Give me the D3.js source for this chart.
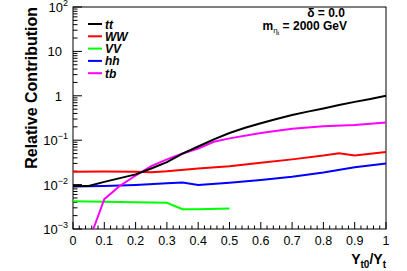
<!DOCTYPE html>
<html>
<head>
<meta charset="UTF-8">
<script src="https://d3js.org/d3.v7.min.js"></script>
<style>
  body { margin: 0; background: #fff; }
  text { font-family: "Liberation Sans", Arial, Helvetica, sans-serif; }
</style>
</head>
<body>
<svg id="chart" width="407" height="271"></svg>
<script>
  // Data
  var xTT = [0, 0.05, 0.1, 0.15, 0.2, 0.25, 0.3, 0.35, 0.4, 0.45, 0.5, 0.55, 0.6, 0.65, 0.7, 0.75, 0.8, 0.85, 0.9, 0.95, 1.0];
  var tt = [0.0093, 0.0093, 0.0115, 0.014, 0.017, 0.023, 0.032, 0.05, 0.072, 0.104, 0.145, 0.19, 0.24, 0.3, 0.37, 0.44, 0.52, 0.62, 0.73, 0.85, 1.0];

  var xTB = [0.065, 0.1, 0.15, 0.2, 0.25, 0.3, 0.35, 0.4, 0.45, 0.5, 0.6, 0.7, 0.8, 0.9, 1.0];
  var tb = [0.001, 0.0047, 0.0094, 0.016, 0.026, 0.037, 0.05, 0.065, 0.092, 0.11, 0.145, 0.18, 0.205, 0.22, 0.25];

  var xWW = [0, 0.1, 0.2, 0.25, 0.3, 0.4, 0.5, 0.6, 0.7, 0.8, 0.85, 0.9, 1.0];
  var ww = [0.0195, 0.0197, 0.0195, 0.019, 0.020, 0.023, 0.026, 0.031, 0.037, 0.045, 0.051, 0.045, 0.054];

  var xHH = [0, 0.1, 0.2, 0.3, 0.35, 0.4, 0.5, 0.6, 0.7, 0.8, 0.9, 1.0];
  var hh = [0.0091, 0.0093, 0.0098, 0.0107, 0.0112, 0.0098, 0.011, 0.0127, 0.015, 0.0187, 0.0245, 0.030];

  var xVV = [0, 0.1, 0.2, 0.3, 0.35, 0.4, 0.5];
  var vv = [0.0042, 0.0041, 0.0040, 0.0039, 0.0028, 0.0028, 0.0029];

  var legendNames = ["tt", "WW", "VV", "hh", "tb"];
  var legendColors = ["#000000", "#ff0000", "#00ff00", "#0000ff", "#ff00ff"];

  var xTicks = [0, 0.1, 0.2, 0.3, 0.4, 0.5, 0.6, 0.7, 0.8, 0.9, 1];
  var yExps = [-3, -2, -1, 0, 1, 2];

  var svg = d3.select("#chart");
  var padL = 73, padR = 386, padT = 7, padB = 229;

  var x = d3.scaleLinear().domain([0, 1]).range([padL, padR]);
  var y = d3.scaleLog().domain([1e-3, 1e2]).range([padB, padT]).clamp(true);

  // frame
  svg.append("rect")
    .attr("x", padL).attr("y", padT)
    .attr("width", padR - padL).attr("height", padB - padT)
    .attr("fill", "none").attr("stroke", "#000").attr("stroke-width", 1);

  // x ticks (major + minor) pointing up
  for (var i = 0; i <= 50; i++) {
    var v = i / 50;
    var len = (i % 5 == 0) ? 7 : 3.5;
    svg.append("line")
      .attr("x1", x(v)).attr("x2", x(v))
      .attr("y1", padB).attr("y2", padB - len)
      .attr("stroke", "#000").attr("stroke-width", 1);
  }

  // y ticks (log, major + minor) pointing right
  for (var e = -3; e <= 2; e++) {
    for (var m = 1; m <= 9; m++) {
      var val = m * Math.pow(10, e);
      if (val > 100) break;
      var len2 = (m == 1) ? 9 : 4.5;
      svg.append("line")
        .attr("x1", padL).attr("x2", padL + len2)
        .attr("y1", y(val)).attr("y2", y(val))
        .attr("stroke", "#000").attr("stroke-width", 1);
    }
  }

  // x tick labels
  svg.append("g").selectAll("text").data(xTicks).enter().append("text")
    .attr("x", d => x(d)).attr("y", 245)
    .attr("text-anchor", "middle")
    .attr("font-size", 12.5)
    .text(d => d3.format("")(d));

  // y tick labels
  yExps.forEach(function (ex) {
    var t = svg.append("text")
      .attr("x", 62).attr("y", y(Math.pow(10, ex)) + 5)
      .attr("text-anchor", "end")
      .attr("font-size", 13);
    if (ex == 0) {
      t.text("1");
    } else if (ex == 1) {
      t.text("10");
    } else {
      t.attr("x", 68);
      t.append("tspan").text("10");
      t.append("tspan").attr("dy", -6).attr("font-size", 9).text(ex < 0 ? "\u2212" + (-ex) : ex);
    }
  });

  // curves
  var line = d3.line().x(d => x(d[0])).y(d => y(d[1]));
  var series = [
    [xWW, ww, "#ff0000"],
    [xVV, vv, "#00ff00"],
    [xHH, hh, "#0000ff"],
    [xTB, tb, "#ff00ff"],
    [xTT, tt, "#000000"]
  ];
  series.forEach(function (s) {
    svg.append("path")
      .datum(d3.zip(s[0], s[1]))
      .attr("d", line)
      .attr("fill", "none")
      .attr("stroke", s[2])
      .attr("stroke-width", 2);
  });

  // legend
  legendNames.forEach(function (n, i) {
    var ly = 24 + i * 12.3;
    svg.append("line")
      .attr("x1", 88).attr("x2", 102)
      .attr("y1", ly).attr("y2", ly)
      .attr("stroke", legendColors[i]).attr("stroke-width", 2);
    svg.append("text")
      .attr("x", 105).attr("y", ly + 4.5)
      .attr("font-size", 12).attr("font-weight", "bold").attr("font-style", "italic")
      .text(n);
  });

  // annotation
  svg.append("text")
    .attr("x", 326).attr("y", 17)
    .attr("text-anchor", "middle")
    .attr("font-size", 12).attr("font-weight", "bold")
    .text("\u03b4 = 0.0");
  var ann = svg.append("text")
    .attr("x", 347).attr("y", 30)
    .attr("text-anchor", "end")
    .attr("font-size", 12).attr("font-weight", "bold");
  ann.append("tspan").text("m");
  ann.append("tspan").attr("dy", 3).attr("font-size", 8).attr("font-weight", "normal").text("\u03b7");
  ann.append("tspan").attr("dy", 2).attr("font-size", 6).attr("font-weight", "normal").text("t");
  ann.append("tspan").attr("dy", -5).text(" = 2000 GeV");

  // axis titles
  svg.append("text")
    .attr("transform", "translate(37,7) rotate(-90)")
    .attr("text-anchor", "end")
    .attr("font-size", 16).attr("font-weight", "bold")
    .text("Relative Contribution");

  var xt = svg.append("text")
    .attr("x", 386).attr("y", 264)
    .attr("text-anchor", "end")
    .attr("font-size", 14).attr("font-weight", "bold");
  xt.append("tspan").text("Y");
  xt.append("tspan").attr("dy", 4).attr("font-size", 10).text("t0");
  xt.append("tspan").attr("dy", -4).text("/Y");
  xt.append("tspan").attr("dy", 4).attr("font-size", 10).text("t");
</script>
</body>
</html>
